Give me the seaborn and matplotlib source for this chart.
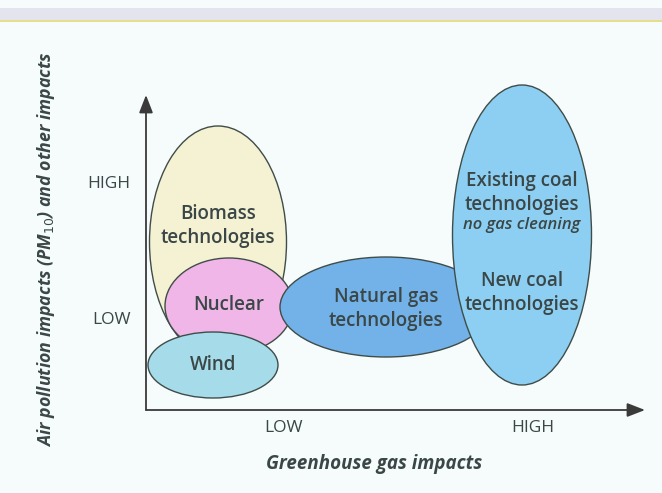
import matplotlib
matplotlib.use("Agg")
import matplotlib.pyplot as plt
from matplotlib.patches import Ellipse, Rectangle
import seaborn as sns

# conceptual diagram: each technology is an ellipse in "impact space"
# units are arbitrary (origin of the arrows at 0,0)
techs = ["Biomass", "Nuclear", "Wind", "Natural gas", "Coal"]
cx = [72, 83, 67, 240, 376]
cy = [168, 104, 45, 103, 175]
widths = [137, 128, 130, 212, 139]
heights = [232, 96, 66, 100, 300]
fills = ["#f4f2d2", "#efb6e7", "#a6dcea", "#72b2e8", "#8dcff2"]

labels = ["Biomass\ntechnologies", "Nuclear", "Wind", "Natural gas\ntechnologies", None]
label_y = [184, 105, 45, 101, None]

coal_text = ["Existing coal\ntechnologies", "no gas cleaning", "New coal\ntechnologies"]
coal_text_y = [217, 185, 117]

level_ticks = ["LOW", "HIGH"]
x_tick_pos = [137, 387]
y_tick_pos = [92, 228]

x_max, y_max = 499, 315

sns.set_theme(style="white")
plt.rcParams["font.family"] = ["Open Sans", "DejaVu Sans"]

bg = "#f6fbfb"
edge = "#3f4d49"
txt = "#3b4747"

fig = plt.figure(figsize=(6.62, 4.93), dpi=100, facecolor=bg)
ax = fig.add_axes([146 / 662, 83 / 493, 499 / 662, 315 / 493])
ax.set_facecolor(bg)
ax.set_xlim(0, x_max)
ax.set_ylim(0, y_max)
sns.despine(ax=ax, left=True, bottom=True)

# top band of the page
fig.patches.append(Rectangle((0, 1 - 20 / 493), 1, 12 / 493, transform=fig.transFigure,
                             facecolor="#e4e4ee", edgecolor="none"))
fig.patches.append(Rectangle((0, 1 - 22 / 493), 1, 2.5 / 493, transform=fig.transFigure,
                             facecolor="#e6df8a", edgecolor="none"))

for i, name in enumerate(techs):
    ax.add_patch(Ellipse((cx[i], cy[i]), widths[i], heights[i], facecolor=fills[i],
                         edgecolor=edge, linewidth=1.0, zorder=2 + i, clip_on=False))
    if labels[i]:
        ax.text(cx[i], label_y[i], labels[i], ha="center", va="center", fontsize=13.5,
                color=txt, fontweight="semibold", linespacing=1.3, zorder=10)

for t, y in zip(coal_text, coal_text_y):
    italic = t.startswith("no")
    ax.text(cx[4], y, t, ha="center", va="center", color=txt, zorder=10,
            fontsize=12 if italic else 13.5, fontstyle="italic" if italic else "normal",
            fontweight="semibold", linespacing=1.3)

# axis arrows
arrow = dict(arrowstyle="-|>,head_length=0.9,head_width=0.35", color="#3a3a3a", lw=1.3,
             shrinkA=0, shrinkB=0)
ax.annotate("", xy=(x_max, 0), xytext=(0, 0), arrowprops=arrow, annotation_clip=False)
ax.annotate("", xy=(0, y_max), xytext=(0, 0), arrowprops=arrow, annotation_clip=False)

ax.set_xticks(x_tick_pos, level_ticks)
ax.set_yticks(y_tick_pos, level_ticks)
ax.tick_params(axis="x", length=0, pad=7, labelsize=12.5, labelcolor=txt)
ax.tick_params(axis="y", length=0, pad=11, labelsize=12.5, labelcolor=txt)

ax.set_xlabel("Greenhouse gas impacts", fontsize=13.5, fontweight="bold", fontstyle="italic",
              color=txt)
ax.set_ylabel("Air pollution impacts (PM$_{10}$) and other impacts", fontsize=12.8,
              fontweight="bold", fontstyle="italic", color=txt)
ax.yaxis.set_label_coords(-0.178, 0.51)
ax.xaxis.set_label_coords(0.457, -0.14)

fig.savefig("out.png", dpi=100, facecolor=bg)
